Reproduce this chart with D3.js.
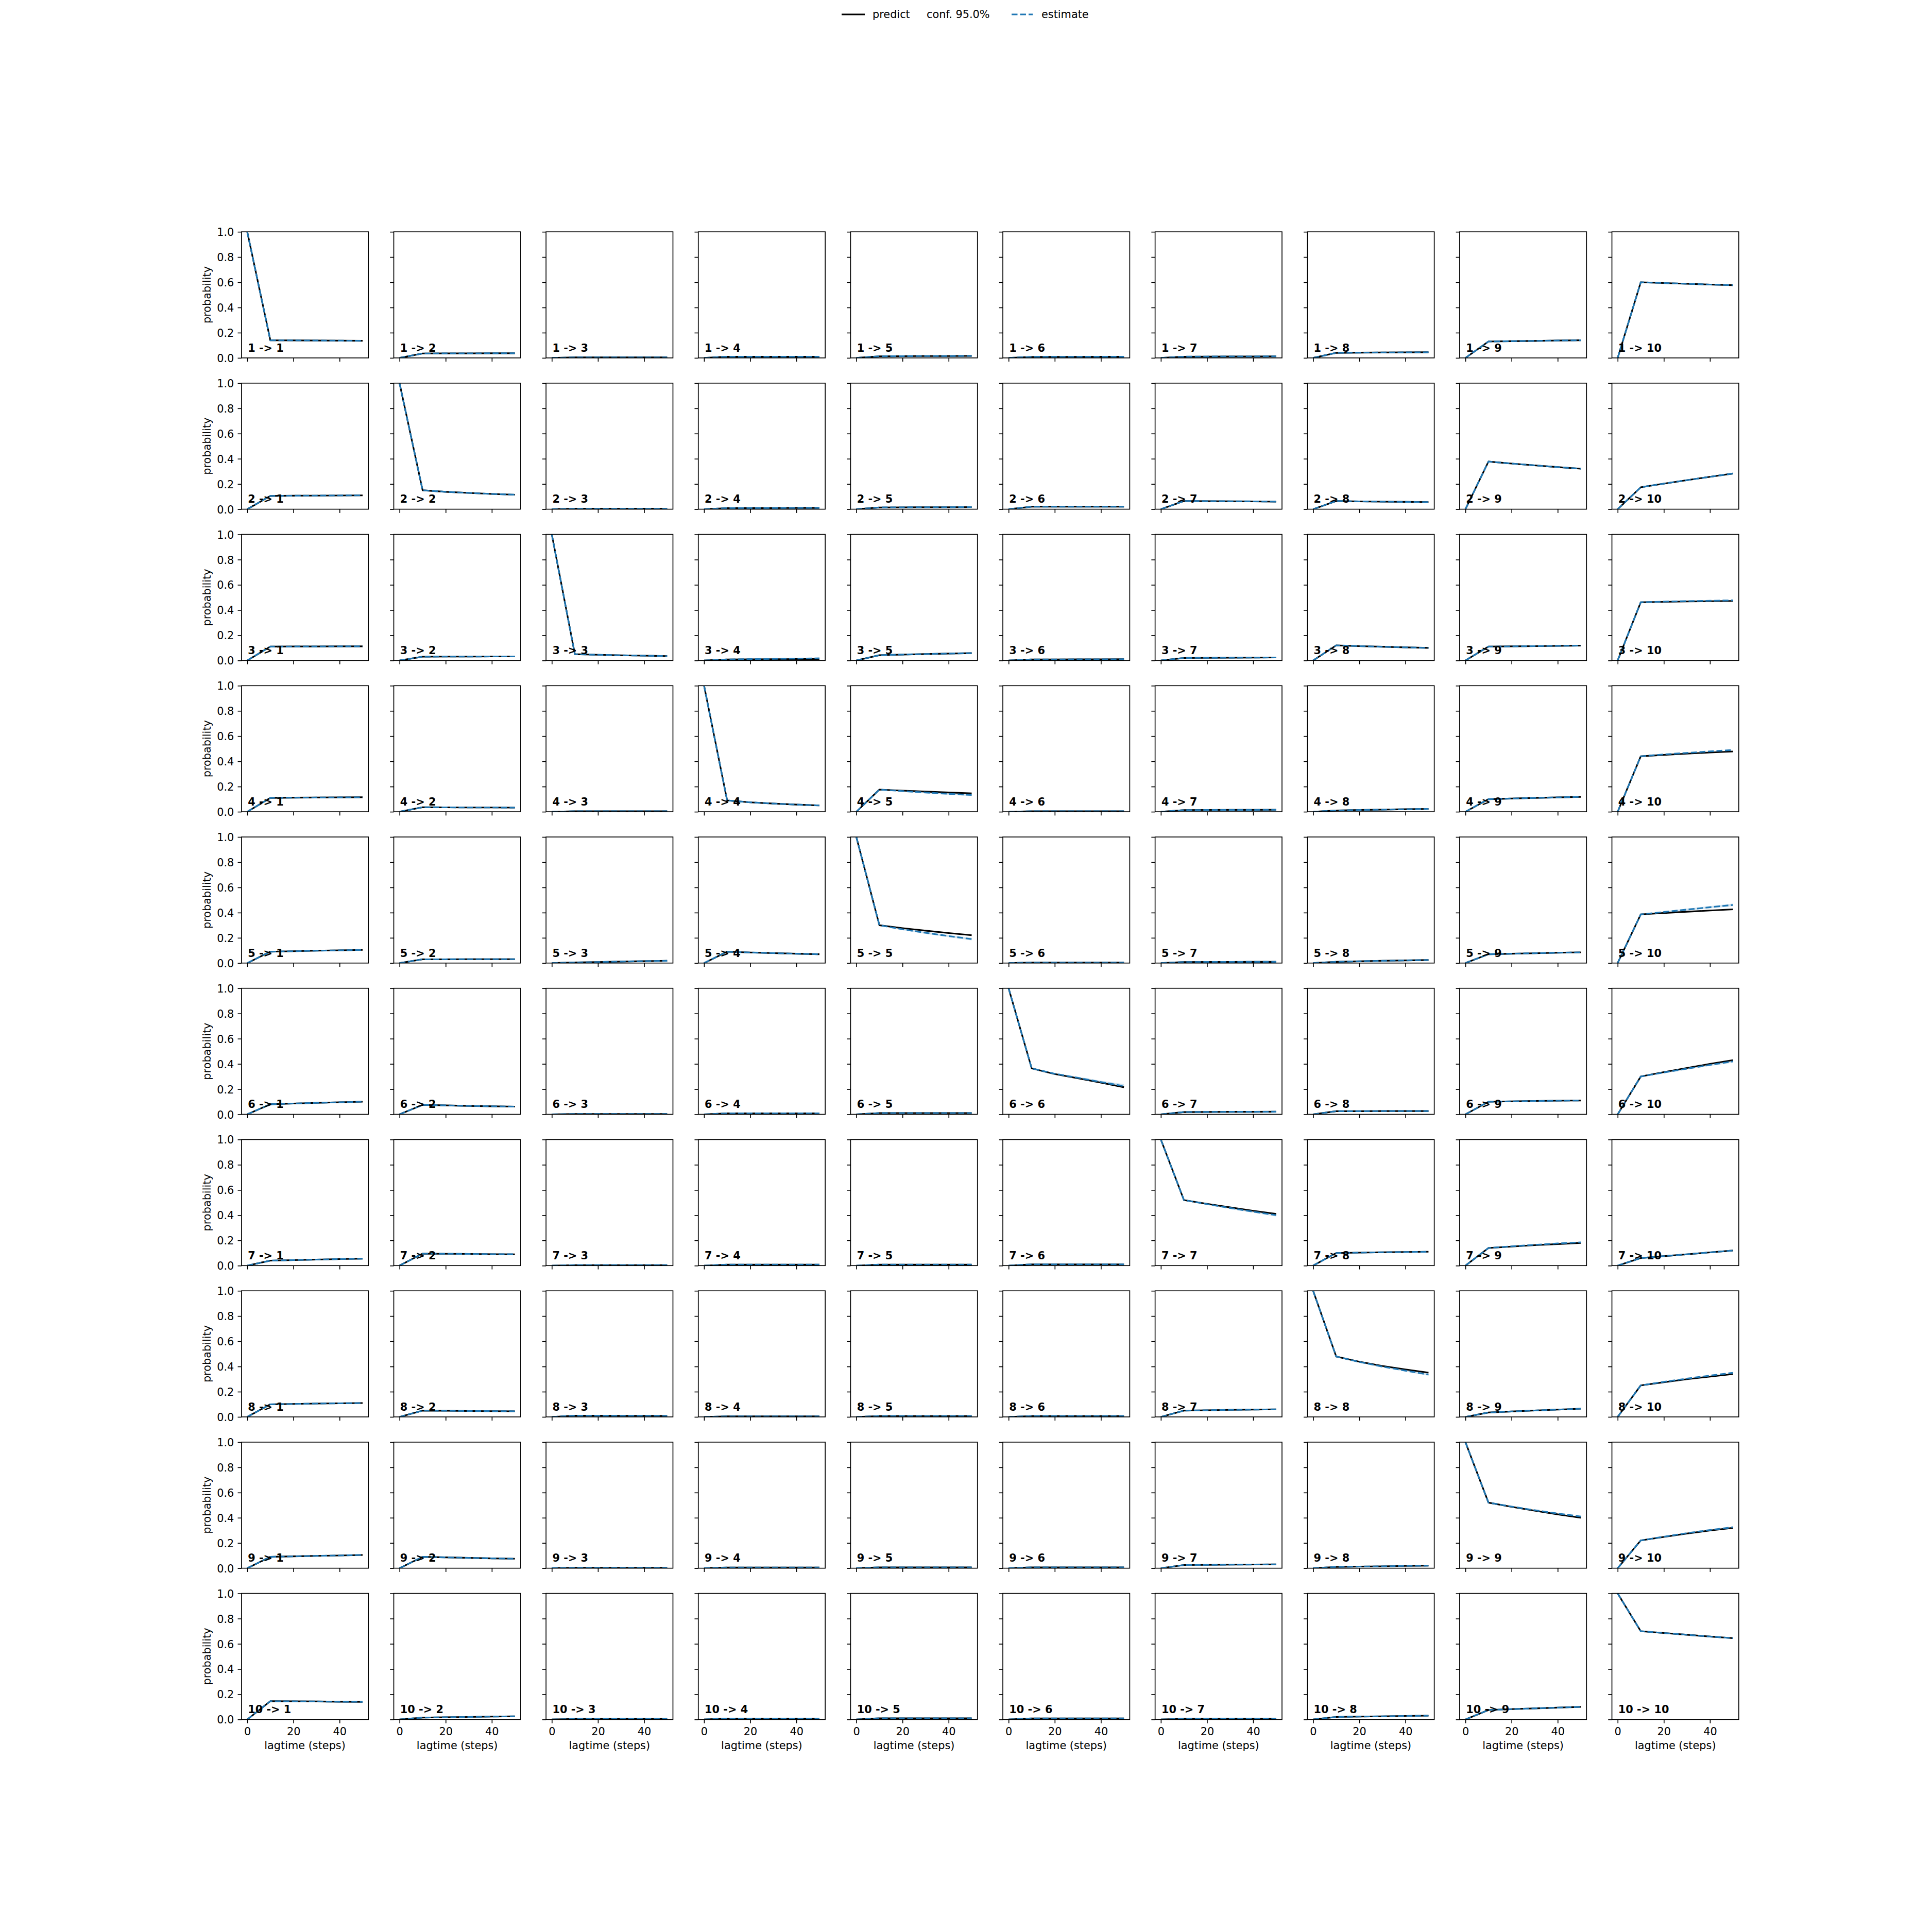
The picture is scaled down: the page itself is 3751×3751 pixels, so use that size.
<!DOCTYPE html>
<html><head><meta charset="utf-8">
<script src="https://cdn.jsdelivr.net/npm/d3@7"></script>
<style>body{margin:0;background:#fff} svg{display:block} text{font-family:"DejaVu Sans",sans-serif}</style>
</head><body><svg id="c" width="3751" height="3751"></svg>
<script>
// ---------------- data ----------------
const states = [1, 2, 3, 4, 5, 6, 7, 8, 9, 10];
const lagtimes = [0, 10, 20, 30, 40, 50];
const xTicks = [0, 20, 40];
const yTicks = [0, 0.2, 0.4, 0.6, 0.8, 1.0];
const legendLabels = ["predict", "conf. 95.0%", "estimate"];

// predict[from-1][to-1] = values at lagtimes
const predict = [
 [[1,0.140,0.139,0.138,0.137,0.136],[0,0.035,0.036,0.036,0.037,0.037],[0,0.004,0.004,0.004,0.004,0.004],[0,0.010,0.010,0.010,0.010,0.010],[0,0.013,0.014,0.015,0.015,0.016],[0,0.008,0.009,0.009,0.010,0.010],[0,0.010,0.011,0.012,0.012,0.013],[0,0.040,0.042,0.043,0.044,0.045],[0,0.130,0.133,0.135,0.138,0.140],[0,0.600,0.594,0.588,0.582,0.577]],
 [[0,0.105,0.107,0.108,0.109,0.110],[1,0.150,0.138,0.129,0.121,0.115],[0,0.004,0.004,0.004,0.004,0.004],[0,0.008,0.009,0.009,0.010,0.010],[0,0.014,0.015,0.016,0.016,0.017],[0,0.020,0.020,0.020,0.020,0.020],[0,0.065,0.064,0.063,0.062,0.060],[0,0.065,0.062,0.060,0.058,0.056],[0,0.378,0.362,0.348,0.334,0.321],[0,0.174,0.203,0.230,0.257,0.283]],
 [[0,0.110,0.111,0.111,0.112,0.112],[0,0.030,0.031,0.031,0.032,0.032],[1,0.050,0.045,0.041,0.038,0.035],[0,0.008,0.009,0.010,0.011,0.012],[0,0.042,0.047,0.051,0.055,0.058],[0,0.008,0.008,0.009,0.009,0.010],[0,0.020,0.021,0.022,0.023,0.024],[0,0.120,0.114,0.109,0.104,0.100],[0,0.110,0.112,0.114,0.116,0.118],[0,0.462,0.465,0.468,0.470,0.472]],
 [[0,0.110,0.112,0.113,0.114,0.115],[0,0.036,0.035,0.034,0.034,0.033],[0,0.004,0.004,0.004,0.004,0.004],[1,0.090,0.075,0.065,0.057,0.050],[0,0.176,0.168,0.160,0.153,0.146],[0,0.004,0.004,0.004,0.004,0.004],[0,0.013,0.014,0.015,0.015,0.016],[0,0.010,0.014,0.017,0.020,0.023],[0,0.100,0.105,0.110,0.114,0.118],[0,0.440,0.451,0.461,0.470,0.478]],
 [[0,0.090,0.094,0.098,0.101,0.104],[0,0.030,0.030,0.031,0.031,0.031],[0,0.005,0.008,0.012,0.015,0.018],[0,0.090,0.084,0.079,0.074,0.070],[1,0.300,0.277,0.257,0.238,0.221],[0,0.004,0.004,0.004,0.004,0.004],[0,0.008,0.009,0.009,0.010,0.010],[0,0.010,0.014,0.018,0.021,0.024],[0,0.070,0.074,0.078,0.082,0.085],[0,0.386,0.397,0.407,0.417,0.426]],
 [[0,0.080,0.086,0.091,0.096,0.100],[0,0.075,0.071,0.067,0.064,0.061],[0,0.003,0.003,0.003,0.003,0.003],[0,0.008,0.008,0.008,0.008,0.008],[0,0.010,0.010,0.010,0.010,0.010],[1,0.365,0.320,0.286,0.251,0.215],[0,0.018,0.019,0.020,0.020,0.021],[0,0.025,0.025,0.026,0.026,0.026],[0,0.100,0.103,0.106,0.108,0.110],[0,0.300,0.335,0.368,0.400,0.430]],
 [[0,0.040,0.044,0.048,0.052,0.055],[0,0.095,0.094,0.093,0.091,0.090],[0,0.004,0.004,0.004,0.004,0.004],[0,0.008,0.008,0.008,0.008,0.008],[0,0.008,0.008,0.008,0.008,0.008],[0,0.010,0.010,0.010,0.010,0.010],[1,0.520,0.490,0.462,0.435,0.410],[0,0.100,0.103,0.106,0.108,0.110],[0,0.140,0.151,0.162,0.171,0.180],[0,0.060,0.075,0.090,0.105,0.120]],
 [[0,0.100,0.103,0.106,0.108,0.110],[0,0.050,0.049,0.047,0.046,0.045],[0,0.010,0.010,0.009,0.009,0.008],[0,0.005,0.005,0.005,0.005,0.005],[0,0.007,0.007,0.007,0.007,0.007],[0,0.007,0.007,0.007,0.007,0.007],[0,0.050,0.053,0.056,0.058,0.060],[1,0.479,0.438,0.404,0.377,0.351],[0,0.035,0.043,0.051,0.058,0.065],[0,0.250,0.275,0.299,0.320,0.340]],
 [[0,0.090,0.094,0.098,0.101,0.105],[0,0.090,0.086,0.082,0.078,0.075],[0,0.004,0.004,0.004,0.004,0.004],[0,0.006,0.006,0.006,0.006,0.006],[0,0.007,0.007,0.007,0.007,0.007],[0,0.007,0.007,0.007,0.007,0.007],[0,0.025,0.026,0.028,0.029,0.030],[0,0.010,0.013,0.015,0.018,0.020],[1,0.520,0.487,0.456,0.427,0.400],[0,0.220,0.248,0.275,0.299,0.320]],
 [[0,0.145,0.144,0.143,0.141,0.140],[0,0.015,0.018,0.020,0.023,0.025],[0,0.004,0.004,0.004,0.004,0.004],[0,0.008,0.008,0.008,0.008,0.008],[0,0.010,0.010,0.010,0.010,0.010],[0,0.009,0.009,0.009,0.009,0.009],[0,0.006,0.006,0.006,0.006,0.006],[0,0.020,0.023,0.025,0.028,0.030],[0,0.075,0.082,0.088,0.094,0.100],[1,0.700,0.686,0.672,0.658,0.645]]
];

// estimate values where they differ visibly from the prediction ("from-to")
const estimateDiffers = {
 "3-4": [0,0.008,0.011,0.013,0.015,0.017],
 "3-10":[0,0.462,0.467,0.471,0.474,0.477],
 "4-5": [0,0.176,0.164,0.153,0.142,0.133],
 "4-10":[0,0.440,0.455,0.467,0.479,0.490],
 "5-5": [1,0.300,0.268,0.240,0.214,0.190],
 "5-10":[0,0.386,0.405,0.424,0.443,0.461],
 "6-6": [1,0.365,0.322,0.290,0.256,0.224],
 "6-10":[0,0.300,0.332,0.362,0.392,0.420],
 "7-7": [1,0.520,0.488,0.457,0.428,0.400],
 "7-9": [0,0.140,0.153,0.165,0.176,0.185],
 "8-8": [1,0.479,0.436,0.399,0.367,0.336],
 "8-10":[0,0.250,0.278,0.304,0.328,0.350],
 "9-9": [1,0.520,0.489,0.460,0.434,0.410],
 "9-10":[0,0.220,0.250,0.278,0.303,0.325]
};
// estimate confidence band (lower / upper) where visible
const estimateConfLow = {
 "4-5": [0,0.176,0.158,0.146,0.134,0.125],
 "5-5": [1,0.300,0.262,0.232,0.205,0.180],
 "5-10":[0,0.386,0.399,0.416,0.434,0.452],
 "6-6": [1,0.365,0.318,0.284,0.249,0.215],
 "8-8": [1,0.479,0.430,0.392,0.359,0.327],
 "6-10":[0,0.300,0.326,0.355,0.384,0.410],
 "7-7": [1,0.520,0.482,0.450,0.420,0.390]
};
const estimateConfHigh = {
 "4-5": [0,0.176,0.170,0.160,0.150,0.141],
 "5-5": [1,0.300,0.274,0.248,0.223,0.200],
 "5-10":[0,0.386,0.411,0.432,0.452,0.472],
 "6-6": [1,0.365,0.328,0.298,0.267,0.240],
 "8-8": [1,0.479,0.442,0.406,0.375,0.345],
 "6-10":[0,0.300,0.338,0.369,0.400,0.430],
 "7-7": [1,0.520,0.494,0.464,0.436,0.410]
};

// ---------------- layout ----------------
const W = 3751, H = 3751;
const figL = 0.125 * W, figR = 0.9 * W, figT = 0.12 * H, figB = 0.89 * H;
const n = states.length;
const axW = (figR - figL) / (n + (n - 1) * 0.2);
const axH = (figB - figT) / (n + (n - 1) * 0.2);
const gapW = axW * 0.2, gapH = axH * 0.2;
const FS = 20.83;
const LW = 3.1, SPINE = 1.67, TICK = 7.3, PAD = 7.3;
const C0 = "#1f77b4";

const svg = d3.select("#c");
svg.append("rect").attr("width", W).attr("height", H).attr("fill", "#fff");

const x = d3.scaleLinear().domain([-2.5, 52.5]).range([0, axW]);
const y = d3.scaleLinear().domain([0, 1]).range([axH, 0]);
const line = d3.line().x((d, k) => x(lagtimes[k])).y(d => y(d));
const area = d3.area().x((d, k) => x(lagtimes[k]));

const defs = svg.append("defs");
defs.append("clipPath").attr("id", "axclip").append("rect")
  .attr("width", axW).attr("height", axH);

states.forEach((from, i) => {
  states.forEach((to, j) => {
    const g = svg.append("g")
      .attr("transform", `translate(${figL + j * (axW + gapW)},${figT + i * (axH + gapH)})`);
    const key = `${from}-${to}`;
    const pv = predict[i][j];
    const ev = estimateDiffers[key] || pv;
    const plot = g.append("g").attr("clip-path", "url(#axclip)");
    if (estimateConfLow[key]) {
      const lo = estimateConfLow[key], hi = estimateConfHigh[key];
      plot.append("path")
        .datum(lo.map((v, k) => [v, hi[k]]))
        .attr("d", area.y0(d => y(d[0])).y1(d => y(d[1])))
        .attr("fill", C0).attr("fill-opacity", 0.2);
    }
    plot.append("path").datum(pv).attr("d", line)
      .attr("fill", "none").attr("stroke", "#000").attr("stroke-width", LW)
      .attr("stroke-linejoin", "round");
    plot.append("path").datum(ev).attr("d", line)
      .attr("fill", "none").attr("stroke", C0).attr("stroke-width", LW)
      .attr("stroke-dasharray", "11.5,5");

    // axes
    const xa = d3.axisBottom(x).tickValues(xTicks).tickSize(TICK).tickPadding(PAD)
      .tickFormat(i === n - 1 ? d3.format("d") : () => "");
    const ya = d3.axisLeft(y).tickValues(yTicks).tickSize(TICK).tickPadding(PAD)
      .tickFormat(j === 0 ? d3.format(".1f") : () => "");
    const gx = g.append("g").attr("transform", `translate(0,${axH})`).call(xa);
    const gy = g.append("g").call(ya);
    [gx, gy].forEach(a => {
      a.select(".domain").remove();
      a.selectAll(".tick line").attr("stroke", "#000").attr("stroke-width", SPINE);
      a.selectAll(".tick text").attr("font-size", FS).attr("fill", "#000")
        .attr("font-family", "DejaVu Sans");
    });
    gx.selectAll(".tick text").attr("dy", null).attr("y", 31);
    gy.selectAll(".tick text").attr("dy", "0.36em");

    g.append("rect").attr("width", axW).attr("height", axH)
      .attr("fill", "none").attr("stroke", "#000").attr("stroke-width", SPINE);

    g.append("text").attr("x", 0.05 * axW).attr("y", axH * 0.95)
      .attr("font-size", FS).attr("font-weight", "bold").attr("fill", "#000")
      .text(`${from} -> ${to}`);

    if (j === 0) {
      g.append("text").attr("transform", `translate(${-60},${axH / 2}) rotate(-90)`)
        .attr("text-anchor", "middle").attr("font-size", FS).attr("fill", "#000")
        .text("probability");
    }
    if (i === n - 1) {
      g.append("text").attr("x", axW / 2).attr("y", axH + 58)
        .attr("text-anchor", "middle").attr("font-size", FS).attr("fill", "#000")
        .text("lagtime (steps)");
    }
  });
});

// ---------------- legend ----------------
const lg = svg.append("g");
lg.append("line").attr("x1", 1634).attr("x2", 1679).attr("y1", 28).attr("y2", 28)
  .attr("stroke", "#000").attr("stroke-width", LW);
lg.append("text").attr("x", 1694).attr("y", 35).attr("font-size", FS).text(legendLabels[0]);
lg.append("text").attr("x", 1799).attr("y", 35).attr("font-size", FS).text(legendLabels[1]);
lg.append("line").attr("x1", 1964).attr("x2", 2005).attr("y1", 28).attr("y2", 28)
  .attr("stroke", C0).attr("stroke-width", LW).attr("stroke-dasharray", "11.5,5");
lg.append("text").attr("x", 2022).attr("y", 35).attr("font-size", FS).text(legendLabels[2]);
</script>
</body></html>
